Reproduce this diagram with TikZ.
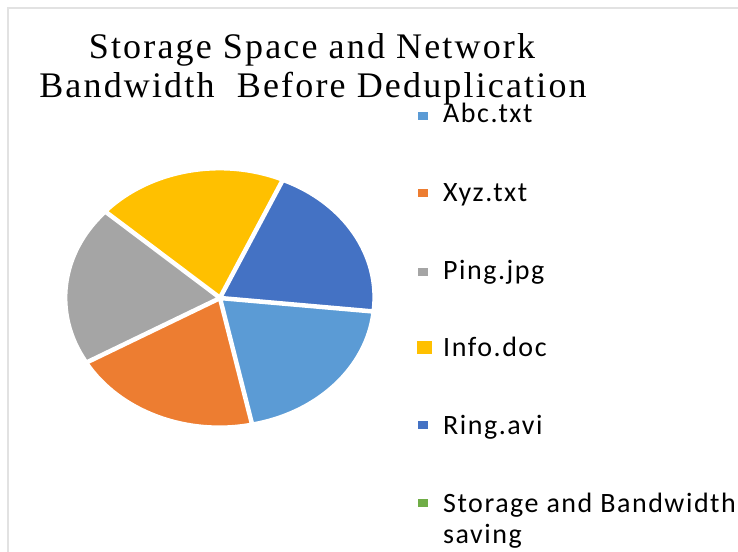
\documentclass[tikz,border=0pt]{standalone}
\usepackage{fontspec}
\setmainfont{Liberation Serif}
\newfontfamily\titlefont[LetterSpace=6]{Liberation Serif}
\newfontfamily\legfont[LetterSpace=5.5]{Carlito}
\definecolor{cAbc}{HTML}{5B9BD5}
\definecolor{cXyz}{HTML}{ED7D31}
\definecolor{cPing}{HTML}{A5A5A5}
\definecolor{cInfo}{HTML}{FFC000}
\definecolor{cRing}{HTML}{4472C4}
\definecolor{cSave}{HTML}{70AD47}
\definecolor{cFrame}{HTML}{E2E2E2}
\newcommand\myslice[3]{%
  \pgfmathsetmacro\midang{(#2+#3)/2}%
  \fill[#1, draw=white, line width=2.4pt, shift={(\midang:1.8pt)}]
    (220pt,253pt) -- ++(#2:152pt and 127pt)
    arc[start angle=#2, end angle=#3, x radius=152pt, y radius=127pt] -- cycle;}
\begin{document}
\begin{tikzpicture}[x=1pt,y=1pt,
  titletext/.style={anchor=base, inner sep=0pt, font=\titlefont\fontsize{36}{36}\selectfont},
  legtext/.style={anchor=base west, inner sep=0pt, font=\legfont\fontsize{28}{28}\selectfont},
  legmark/.style={inner sep=0pt, minimum width=10pt, minimum height=8pt}]
\useasboundingbox (0,0) rectangle (738,551);
\fill[white] (0,0) rectangle (738,551);
\draw[cFrame, line width=2pt] (8,-5) -- (8,543) -- (745,543);
% pie
\myslice{cAbc}{282}{354}
\myslice{cRing}{-6}{66}
\myslice{cInfo}{66}{138}
\myslice{cPing}{138}{210}
\myslice{cXyz}{210}{282}
% title
\node[titletext] (title1) at (312,492) {Storage Space and Network};
\node[titletext] (title2) at (313,453) {Bandwidth\ \ Before Deduplication};
% legend
\node[legmark, fill=cAbc] (mAbc) at (423,435) {};
\node[legtext] (tAbc) at (443,428) {Abc.txt};
\node[legmark, fill=cXyz] (mXyz) at (423,358) {};
\node[legtext] (tXyz) at (443,349) {Xyz.txt};
\node[legmark, fill=cPing] (mPing) at (423,279) {};
\node[legtext] (tPing) at (443,271) {Ping.jpg};
\node[legmark, fill=cInfo, minimum width=15pt, minimum height=13pt] (mInfo) at (424,203) {};
\node[legtext] (tInfo) at (443,194) {Info.doc};
\node[legmark, fill=cRing] (mRing) at (423,126) {};
\node[legtext] (tRing) at (443,116) {Ring.avi};
\node[legmark, fill=cSave] (mSave) at (423,48) {};
\node[legtext] (tSave) at (443,38) {Storage and Bandwidth};
\node[legtext] (tSave2) at (443,8) {saving};
\end{tikzpicture}
\end{document}
